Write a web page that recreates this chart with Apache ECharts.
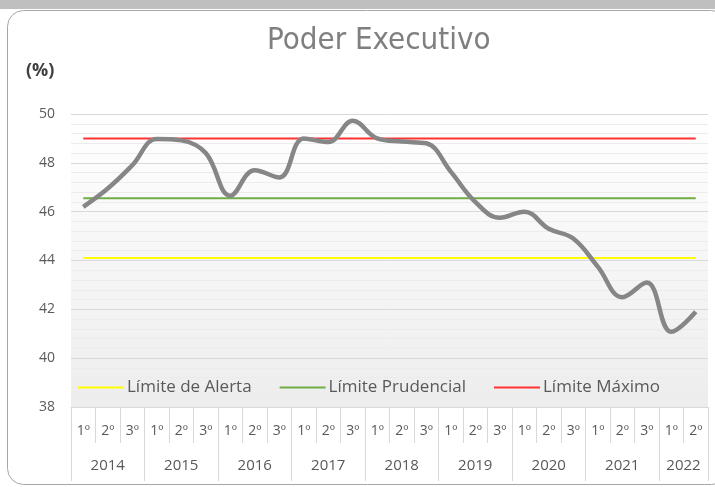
<!DOCTYPE html>
<html>
<head>
<meta charset="utf-8">
<title>Poder Executivo</title>
<script src="https://cdn.jsdelivr.net/npm/echarts@6/dist/echarts.min.js"></script>
<style>
  html, body { margin: 0; padding: 0; background: #fff; }
  #chart { width: 715px; height: 487px; }
</style>
</head>
<body>
<div id="chart"></div>
<script>
// dados
var quadrimestres = ['1º','2º','3º','1º','2º','3º','1º','2º','3º','1º','2º','3º',
  '1º','2º','3º','1º','2º','3º','1º','2º','3º','1º','2º','3º','1º','2º'];
var anos = ['2014','2015','2016','2017','2018','2019','2020','2021','2022'];
var anoLimites = [0, 3, 6, 9, 12, 15, 18, 21, 24, 26];
var anoCentros = [1.5, 4.5, 7.5, 10.5, 13.5, 16.5, 19.5, 22.5, 25];
var despesaPessoal = [46.2, 46.95, 47.9, 48.98, 48.92, 48.4, 46.65, 47.7, 47.4, 49.0, 48.85, 49.72,
  49.0, 48.87, 48.8, 47.64, 46.4, 45.75, 46.0, 45.3, 44.9, 43.75, 42.5, 43.1, 41.08, 41.9];
var limiteAlerta = 44.1;
var limitePrudencial = 46.55;
var limiteMaximo = 49.0;

function constante(v) {
  return quadrimestres.map(function () { return v; });
}

var chart = echarts.init(document.getElementById('chart'), null, { renderer: 'canvas' });
var fonte = '"Open Sans", "Noto Sans", sans-serif';

chart.setOption({
  animation: false,
  textStyle: { fontFamily: fonte },
  title: [
    {
      text: 'Poder Executivo',
      left: 262,
      top: 20,
      textStyle: { fontSize: 31, fontWeight: 'normal', color: '#7f7f7f', fontFamily: '"DejaVu Sans Condensed", sans-serif' }
    },
    {
      text: '(%)',
      left: 21,
      top: 57,
      textStyle: { fontSize: 18, fontWeight: 'bold', color: '#404040', fontFamily: fonte }
    }
  ],
  graphic: [
    { type: 'rect', shape: { x: 0, y: 0, width: 715, height: 9 }, style: { fill: '#bfbfbf' }, silent: true },
    { type: 'rect', shape: { x: 7.5, y: 10.5, width: 720, height: 474, r: 16 },
      style: { fill: 'none', stroke: '#a6a6a6', lineWidth: 1 }, silent: true }
  ],
  legend: {
    left: 73,
    top: 374,
    icon: 'rect',
    itemWidth: 46,
    itemHeight: 2,
    itemGap: 28,
    textStyle: { fontSize: 17, color: '#595959', fontFamily: fonte, padding: [0, 0, 0, -2] },
    data: ['Límite de Alerta', 'Límite Prudencial', 'Límite Máximo']
  },
  grid: {
    left: 71,
    right: 7,
    top: 114,
    bottom: 80,
    show: true,
    borderWidth: 0,
    backgroundColor: new echarts.graphic.LinearGradient(0, 0, 0, 1, [
      { offset: 0, color: '#ffffff' },
      { offset: 1, color: '#ededed' }
    ])
  },
  xAxis: [
    {
      type: 'category',
      data: quadrimestres,
      boundaryGap: true,
      axisLine: { show: true, lineStyle: { color: '#d9d9d9' } },
      axisTick: { show: true, alignWithLabel: false, length: 36, lineStyle: { color: '#d9d9d9' } },
      axisLabel: { interval: 0, margin: 17, fontSize: 14, color: '#595959' },
      splitLine: { show: false }
    },
    {
      type: 'value',
      position: 'bottom',
      min: 0,
      max: 26,
      axisLine: { show: false },
      axisTick: { show: true, customValues: anoLimites, length: 74, lineStyle: { color: '#d9d9d9' } },
      axisLabel: {
        customValues: anoCentros,
        margin: 51,
        fontSize: 15,
        color: '#595959',
        formatter: function (v) { return anos[anoCentros.indexOf(v)]; }
      },
      splitLine: { show: false }
    }
  ],
  yAxis: {
    type: 'value',
    min: 38,
    max: 50,
    interval: 2,
    axisLine: { show: false },
    axisTick: { show: false },
    axisLabel: { margin: 16, fontSize: 14, color: '#595959' },
    splitLine: { lineStyle: { color: '#d9d9d9' } },
    minorTick: { show: false, splitNumber: 5 },
    minorSplitLine: { show: true, lineStyle: { color: '#ececec' } }
  },
  series: [
    {
      name: 'Límite de Alerta',
      type: 'line',
      data: constante(limiteAlerta),
      symbol: 'none',
      lineStyle: { color: '#ffff00', width: 2 },
      itemStyle: { color: '#ffff00' }
    },
    {
      name: 'Límite Prudencial',
      type: 'line',
      data: constante(limitePrudencial),
      symbol: 'none',
      lineStyle: { color: '#70ad47', width: 2 },
      itemStyle: { color: '#70ad47' }
    },
    {
      name: 'Límite Máximo',
      type: 'line',
      data: constante(limiteMaximo),
      symbol: 'none',
      lineStyle: { color: '#ff3333', width: 2 },
      itemStyle: { color: '#ff3333' }
    },
    {
      name: 'Despesa com Pessoal',
      type: 'line',
      data: despesaPessoal,
      smooth: 0.4,
      symbol: 'none',
      z: 5,
      lineStyle: { color: '#868686', width: 4.5 },
      itemStyle: { color: '#868686' }
    }
  ]
});
</script>
</body>
</html>
